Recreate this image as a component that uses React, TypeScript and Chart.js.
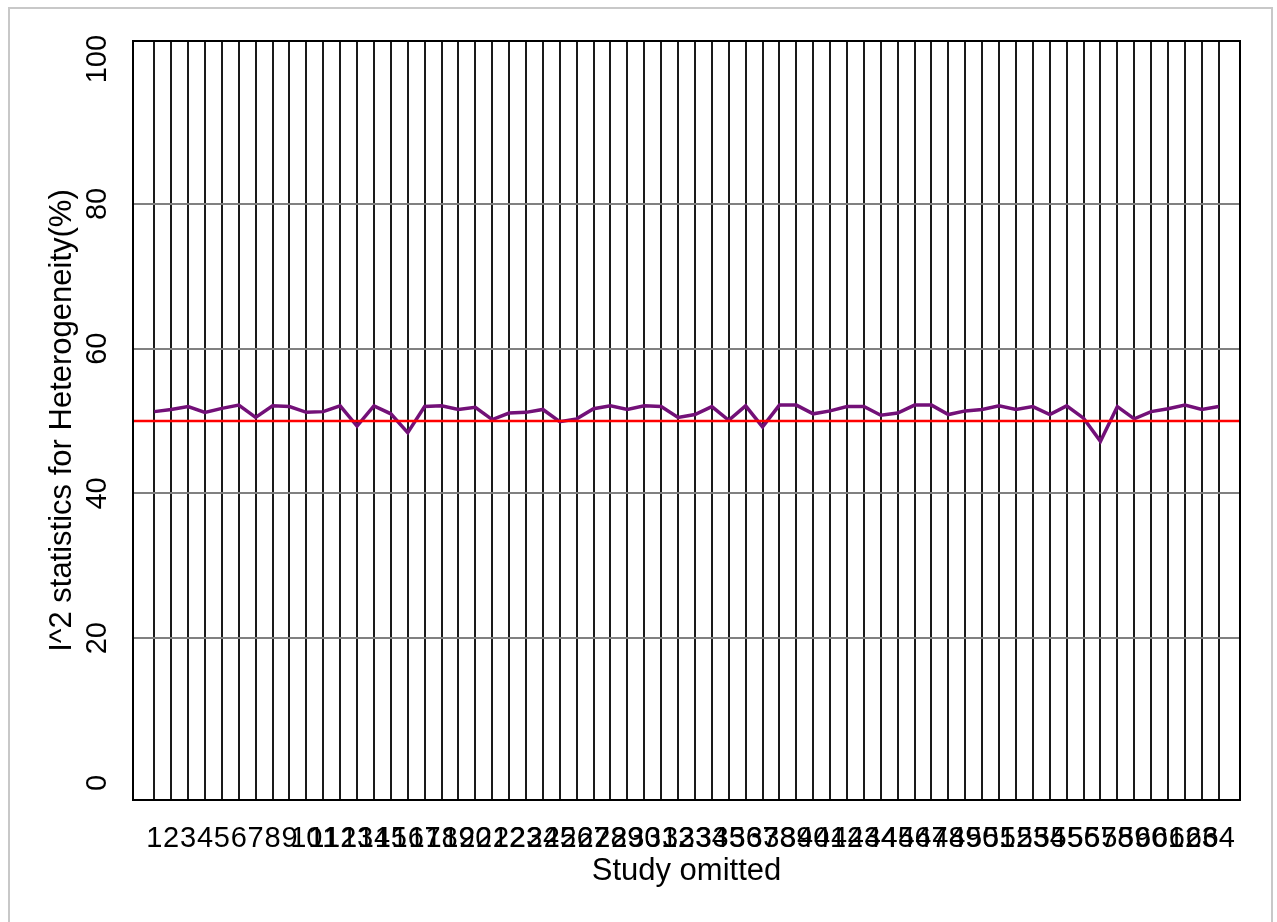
import React, { useEffect, useRef } from 'react';
import { Chart, registerables } from 'chart.js';

Chart.register(...registerables);

const studyIds = [
  1, 2, 3, 4, 5, 6, 7, 8, 9, 10, 11, 12, 13, 14, 15, 16,
  17, 18, 19, 20, 21, 22, 23, 24, 25, 26, 27, 28, 29, 30, 31, 32,
  33, 34, 35, 36, 37, 38, 39, 40, 41, 42, 43, 44, 45, 46, 47, 48,
  49, 50, 51, 52, 53, 54, 55, 56, 57, 58, 59, 60, 61, 62, 63, 64,
];

const i2Values = [
  51.3, 51.6, 52.0, 51.2, 51.75, 52.2, 50.5, 52.1, 52.0, 51.2, 51.3, 52.1, 49.3, 52.1, 51.0, 48.4,
  52.0, 52.1, 51.6, 51.9, 50.2, 51.1, 51.2, 51.6, 49.9, 50.3, 51.7, 52.1, 51.6, 52.1, 52.0, 50.5,
  50.9, 52.0, 50.1, 52.1, 49.2, 52.2, 52.2, 51.0, 51.4, 52.0, 52.0, 50.8, 51.1, 52.2, 52.2, 50.9,
  51.4, 51.6, 52.1, 51.6, 52.0, 50.9, 52.1, 50.4, 47.2, 52.0, 50.3, 51.3, 51.7, 52.2, 51.6, 52.0,
];

const referenceLevel = 50;
const yTickValues = [0, 20, 40, 60, 80, 100];
const yGridLevels = [20, 40, 60, 80];

const xMin = -0.26;
const xMax = 65.26;
const yMin = -2.35;
const yMax = 102.5;

const FONT = "'Liberation Sans', Arial, sans-serif";

const boxPlugin = {
  id: 'plotBox',
  afterDatasetsDraw(chart: any) {
    const { ctx, chartArea } = chart;
    ctx.save();
    ctx.strokeStyle = '#000000';
    ctx.lineWidth = 2;
    ctx.strokeRect(chartArea.left, chartArea.top, chartArea.right - chartArea.left, chartArea.bottom - chartArea.top);
    ctx.restore();
  },
};

export default function App() {
  const canvasRef = useRef<HTMLCanvasElement>(null);

  useEffect(() => {
    const canvas = canvasRef.current;
    if (!canvas) return;
    const chart = new Chart(canvas, {
      type: 'line',
      data: {
        datasets: [
          {
            label: 'Reference',
            data: [
              { x: xMin, y: referenceLevel },
              { x: xMax, y: referenceLevel },
            ],
            borderColor: '#ff0000',
            borderWidth: 2.5,
            pointRadius: 0,
            order: 0,
          },
          {
            label: 'I^2',
            data: studyIds.map((s, i) => ({ x: s, y: i2Values[i] })),
            borderColor: '#731078',
            borderWidth: 3.5,
            pointRadius: 0,
            tension: 0,
            order: 1,
          },
        ],
      },
      options: {
        animation: false,
        responsive: false,
        maintainAspectRatio: false,
        layout: { padding: { top: 41, right: 37, left: 0, bottom: 0 } },
        plugins: { legend: { display: false }, tooltip: { enabled: false } },
        scales: {
          x: {
            type: 'linear',
            min: xMin,
            max: xMax,
            afterBuildTicks: (s: any) => {
              s.ticks = studyIds.map((v) => ({ value: v }));
            },
            afterFit: (s: any) => {
              s.height = 122;
            },
            ticks: {
              autoSkip: false,
              maxRotation: 0,
              minRotation: 0,
              padding: 22,
              color: '#000000',
              font: { family: FONT, size: 29 },
              callback: (v: any) => String(v),
            },
            grid: { color: '#1a1a1a', lineWidth: 2, drawTicks: false },
            border: { display: false },
            title: {
              display: true,
              text: 'Study omitted',
              color: '#000000',
              font: { family: FONT, size: 31 },
              padding: { top: 0, bottom: 32 },
            },
          },
          y: {
            type: 'linear',
            min: yMin,
            max: yMax,
            afterBuildTicks: (s: any) => {
              s.ticks = yTickValues.map((v) => ({ value: v }));
            },
            afterFit: (s: any) => {
              s.width = 133;
            },
            ticks: {
              minRotation: 90,
              maxRotation: 90,
              crossAlign: 'center',
              padding: 11,
              color: '#000000',
              font: { family: FONT, size: 29 },
              callback: (v: any) => String(v),
            },
            grid: {
              color: (ctx: any) => (yGridLevels.includes(ctx.tick?.value) ? '#808080' : 'rgba(0,0,0,0)'),
              lineWidth: 2,
              drawTicks: false,
            },
            border: { display: false },
            title: {
              display: true,
              text: 'I^2 statistics for Heterogeneity(%)',
              color: '#000000',
              font: { family: FONT, size: 31 },
              padding: { top: 44, bottom: 0 },
            },
          },
        },
      } as any,
      plugins: [boxPlugin],
    });
    return () => chart.destroy();
  }, []);

  return (
    <div>
      <div
        style={{
          position: 'absolute',
          left: 8,
          top: 7,
          width: 1265,
          height: 940,
          border: '2px solid #c8c8c8',
          boxSizing: 'border-box',
        }}
      />
      <canvas
        ref={canvasRef}
        width={1277}
        height={922}
        style={{ position: 'fixed', left: 0, top: 0, width: 1277, height: 922, display: 'block' }}
      />
    </div>
  );
}
